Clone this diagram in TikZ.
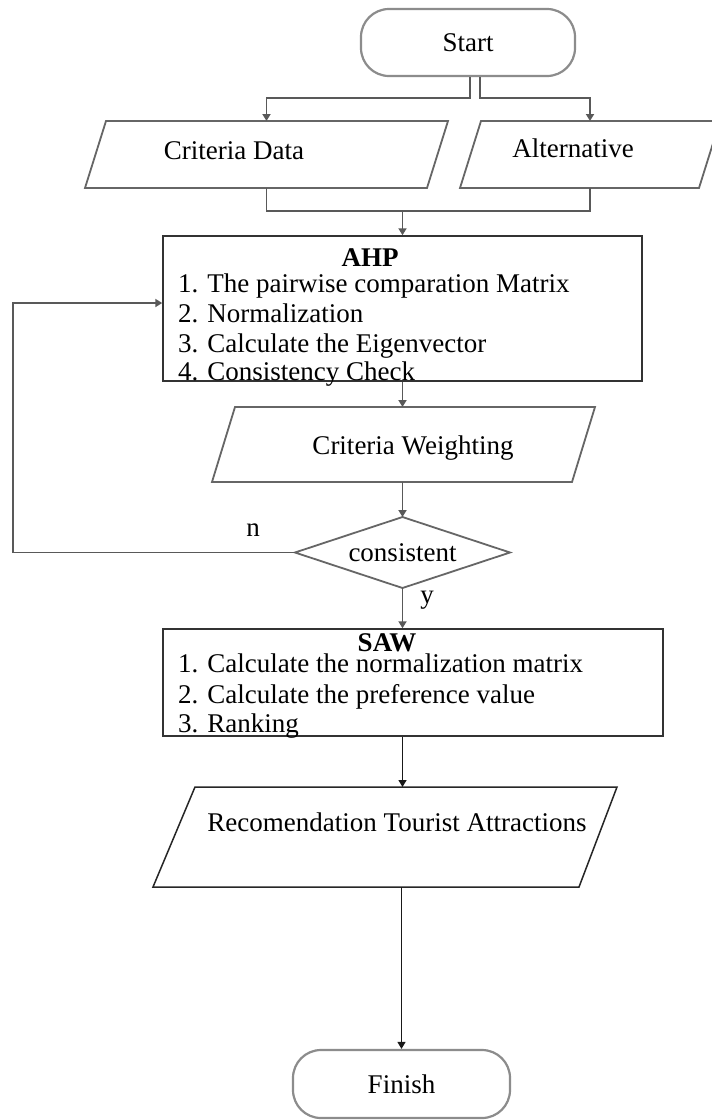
\documentclass[tikz,border=0pt]{standalone}
\usepackage{fontspec}
\setmainfont{Liberation Serif}
\usetikzlibrary{arrows.meta}
\begin{document}
\begin{tikzpicture}[x=1pt,y=-1pt,
  font=\fontsize{27}{30}\selectfont,
  ln/.style={draw=black!65, line width=1.8pt},
  arr/.style={ln, -{Triangle[length=7pt,width=8pt]}},
  term/.style={draw=black!45, line width=2.2pt, rounded corners=28pt, inner sep=0pt},
  hold/.style={inner sep=0pt, outer sep=0pt},
  pline/.style={draw=black!60, line width=1.8pt, line join=miter},
  procbox/.style={draw=black!80, line width=1.5pt, inner sep=0pt},
  txt/.style={inner sep=0pt, text=black}
]
\useasboundingbox[fill=white] (0,0) rectangle (712,1120);

% terminals
\node[term, minimum width=214pt, minimum height=67pt] (start) at (468,42.5) {Start};
\node[term, minimum width=217pt, minimum height=68pt] (finish) at (401.5,1084) {Finish};

% input parallelograms
\node[hold, minimum width=363pt, minimum height=67pt] (crit) at (266.5,154.5) {};
\draw[pline] ([xshift=21pt]crit.north west) -- (crit.north east) -- ([xshift=-21pt]crit.south east) -- (crit.south west) -- cycle;
\node[txt, anchor=base] (critT) at (234,159) {Criteria Data};

\node[hold, minimum width=260pt, minimum height=67pt] (alt) at (590,154.5) {};
\draw[pline] ([xshift=21pt]alt.north west) -- (alt.north east) -- ([xshift=-21pt]alt.south east) -- (alt.south west) -- cycle;
\node[txt, anchor=base] (altT) at (573,157) {Alternative};

% AHP box
\node[procbox, minimum width=479pt, minimum height=145pt] (ahp) at (402.5,308.5) {};
\node[txt, anchor=base, font=\fontsize{27}{30}\selectfont\bfseries] (ahpT) at (370,266) {AHP};
\node[txt, anchor=base west] (a1) at (178,292) {1. The pairwise comparation Matrix};
\node[txt, anchor=base west] (a2) at (178,322) {2. Normalization};
\node[txt, anchor=base west] (a3) at (178,352) {3. Calculate the Eigenvector};
\node[txt, anchor=base west] (a4) at (178,380) {4. Consistency Check};

% criteria weighting
\node[hold, minimum width=383pt, minimum height=75pt] (cw) at (403.5,444.5) {};
\draw[pline] ([xshift=23pt]cw.north west) -- (cw.north east) -- ([xshift=-23pt]cw.south east) -- (cw.south west) -- cycle;
\node[txt, anchor=base] (cwT) at (413,454) {Criteria Weighting};

% decision
\node[hold, minimum width=215pt, minimum height=71pt] (cons) at (402.5,552.5) {consistent};
\draw[pline] (cons.north) -- (cons.east) -- (cons.south) -- (cons.west) -- cycle;

% SAW box
\node[procbox, minimum width=500pt, minimum height=107pt] (saw) at (413,682.5) {};
\node[txt, anchor=base, font=\fontsize{27}{30}\selectfont\bfseries] (sawT) at (387,651) {SAW};
\node[txt, anchor=base west] (s1) at (178,672) {1. Calculate the normalization matrix};
\node[txt, anchor=base west] (s2) at (178,703) {2. Calculate the preference value};
\node[txt, anchor=base west] (s3) at (178,732) {3. Ranking};

% recommendation
\node[hold, minimum width=464pt, minimum height=100pt] (rec) at (385,837) {};
\draw[pline, draw=black!85, line width=1.5pt] ([xshift=42pt]rec.north west) -- (rec.north east) -- ([xshift=-38pt]rec.south east) -- (rec.south west) -- cycle;
\node[txt, anchor=base] (recT) at (397,831) {Recomendation Tourist Attractions};

% connectors
\draw[arr] ([xshift=2pt]start.south) -- ++(0,21) -| (crit.north);
\draw[arr] ([xshift=12pt]start.south) -- ++(0,21) -| (alt.north);
\draw[ln] (crit.south) -- ++(0,23) -| (alt.south);
\coordinate (mg) at (402.5,211);
\draw[arr] (mg) -- (ahp.north);
\draw[arr] (ahp.south) -- (ahp.south |- cw.north);
\draw[arr] (cons.north |- cw.south) -- (cons.north);
\draw[arr] (cons.south) -- (cons.south |- saw.north);
\coordinate (lp) at (13,303);
\draw[arr] (cons.west) -| (lp) -- (lp -| ahp.west);
\draw[arr, draw=black!90, line width=1.4pt] (cons.south |- saw.south) -- (cons.south |- rec.north);
\draw[arr, draw=black!90, line width=1.4pt] (finish.north |- rec.south) -- (finish.north);

% labels
\node[txt, anchor=base] (nL) at (253,536) {n};
\node[txt, anchor=base] (yL) at (427,603) {y};
\end{tikzpicture}
\end{document}
